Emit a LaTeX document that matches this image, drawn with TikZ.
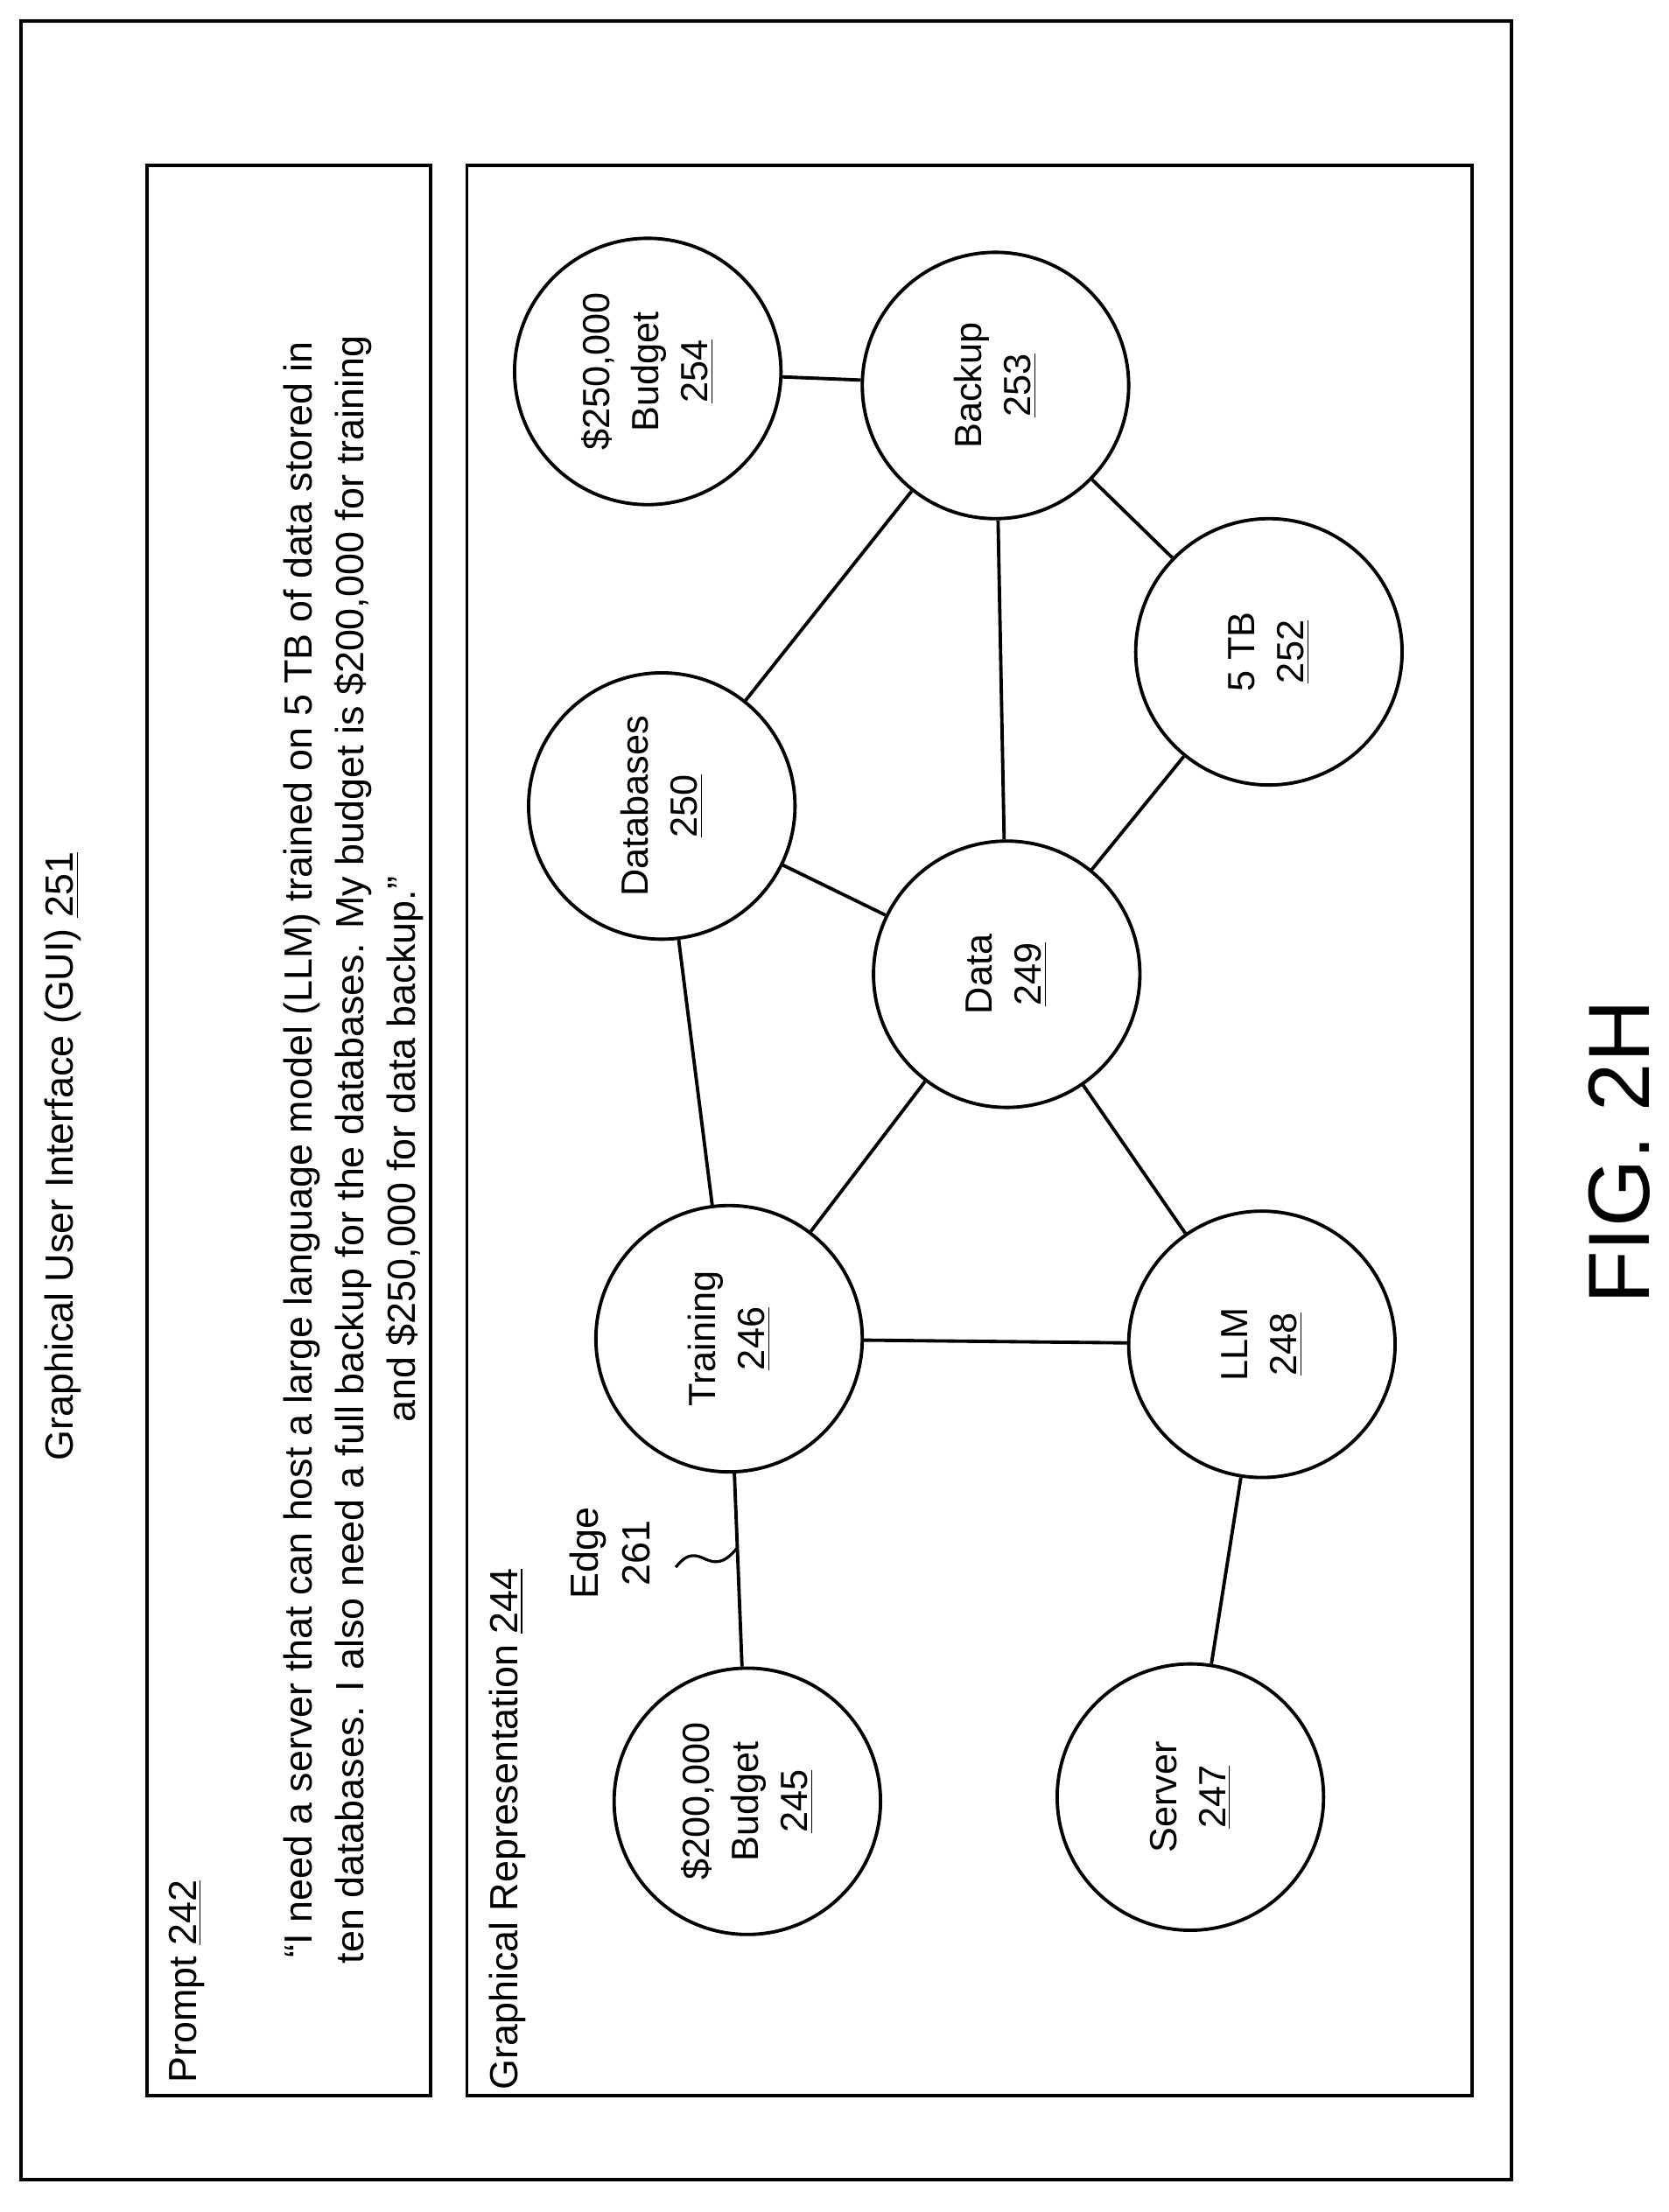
\documentclass[tikz,border=0pt]{standalone}
\usepackage{fontspec}
\setmainfont{Liberation Sans}
\begin{document}
\begin{tikzpicture}[x=0.5pt,y=-0.5pt,
  gn/.style={draw,line width=1.2pt,circle,minimum size=95pt,inner sep=0pt,rotate=90,align=center,font=\fontsize{13.5}{17.5}\selectfont},
  ed/.style={line width=1.2pt},
  bx/.style={draw,line width=1.2pt},
  tx/.style={rotate=90,font=\fontsize{14}{18.5}\selectfont}]
\useasboundingbox (0,0) rectangle (1190,1578);
\draw[bx] (15,15) rectangle (1078,1555);
\node[tx] (gui) at (45,825) {Graphical User Interface (GUI) \underline{251}};
\draw[bx] (105,118) rectangle (307,1495);
\node[tx,anchor=west] (pt) at (133,1493) {Prompt \underline{242}};
\node[tx,anchor=north,align=center] (q) at (195,820) {``I need a server that can host a large language model (LLM) trained on 5 TB of data stored in\\ ten databases. I also need a full backup for the databases. My budget is \$200,000 for training\\ and \$250,000 for data backup.''};
\draw[bx] (333,118) rectangle (1050,1495);
\node[tx,anchor=west] (gr) at (362,1498) {Graphical Representation \underline{244}};
\node[gn] (b245) at (533,1285) {\$200,000\\Budget\\\underline{245}};
\node[gn] (s247) at (849,1282) {Server\\\underline{247}};
\node[gn] (t246) at (520,955) {Training\\\underline{246}};
\node[gn] (l248) at (900,959) {LLM\\\underline{248}};
\node[gn] (d249) at (718,695) {Data\\\underline{249}};
\node[gn] (d250) at (472,575) {Databases\\\underline{250}};
\node[gn] (t252) at (905,465) {5 TB\\\underline{252}};
\node[gn] (b253) at (710,275) {Backup\\\underline{253}};
\node[gn] (b254) at (462,265) {\$250,000\\Budget\\\underline{254}};
\draw[ed] (b245)--(t246);
\draw[ed] (s247)--(l248);
\draw[ed] (t246)--(l248);
\draw[ed] (t246)--(d250);
\draw[ed] (t246)--(d249);
\draw[ed] (l248)--(d249);
\draw[ed] (d249)--(d250);
\draw[ed] (d249)--(t252);
\draw[ed] (d249)--(b253);
\draw[ed] (d250)--(b253);
\draw[ed] (b253)--(t252);
\draw[ed] (b253)--(b254);
\node[tx,align=center] (e261) at (435,1108) {Edge\\261};
\coordinate (sq0) at (482,1118);
\coordinate (sq1) at (526,1104);
\draw[line width=1pt] (sq0) .. controls (500,1095) and (505,1130) .. (sq1);
\node[rotate=90,font=\fontsize{31}{36}\selectfont] (fig) at (1155,822) {FIG. 2H};
\end{tikzpicture}
\end{document}
